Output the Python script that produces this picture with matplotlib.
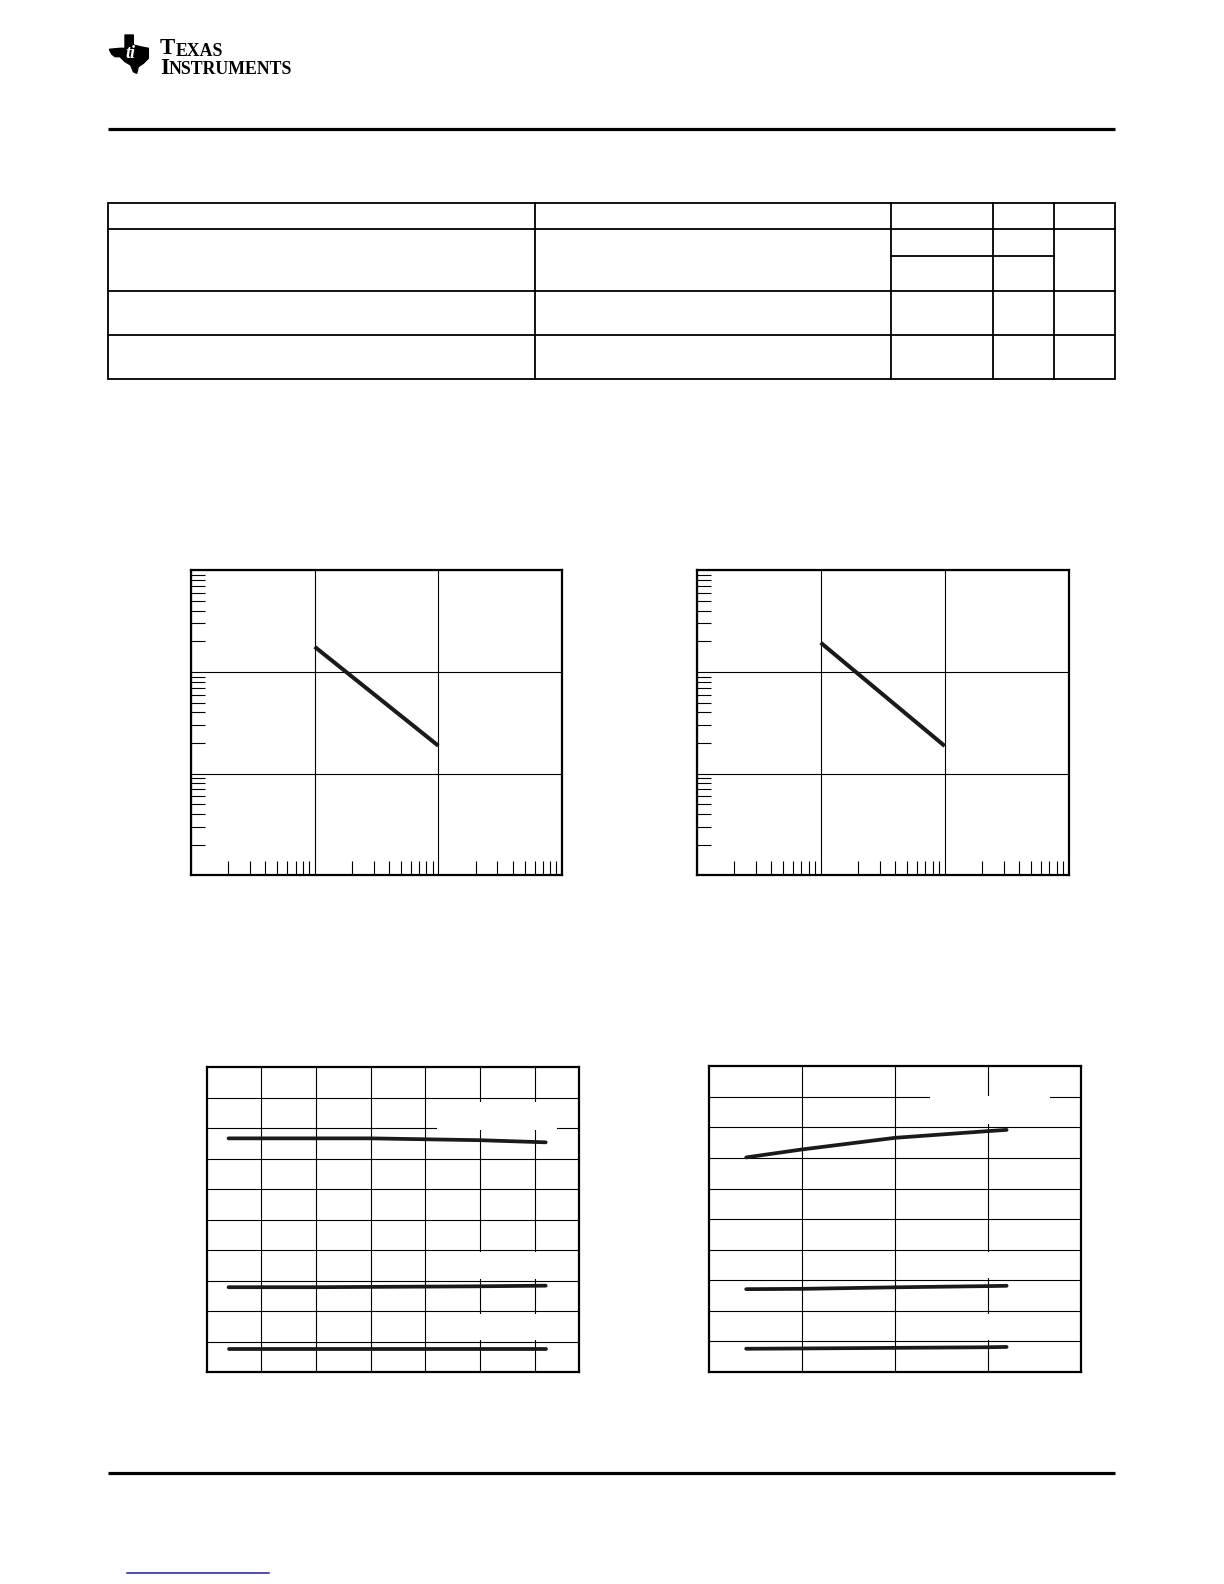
import numpy as np
import matplotlib
matplotlib.use("Agg")
import matplotlib.pyplot as plt
from matplotlib.patches import Polygon, Rectangle
from matplotlib.ticker import LogLocator, NullFormatter, FixedLocator

W, H = 1224, 1584

# top charts: log-log, one straight segment each
freq_hz = [100, 1000]
noise_left = [177, 18.8]
noise_right = [194, 18.7]

# bottom-left chart: three curves vs temperature
temp_c = [-40, 0, 25, 50, 75, 105]
temp_upper = [7.67, 7.67, 7.67, 7.64, 7.61, 7.54]
temp_middle = [2.79, 2.79, 2.80, 2.81, 2.82, 2.84]
temp_lower = [0.75, 0.75, 0.75, 0.75, 0.75, 0.75]

# bottom-right chart: three curves vs supply
supply_v = [2.4, 3, 4, 5, 5.2]
supply_upper = [7.02, 7.28, 7.66, 7.88, 7.92]
supply_middle = [2.71, 2.72, 2.77, 2.81, 2.82]
supply_lower = [0.76, 0.77, 0.79, 0.81, 0.82]


def px_box(x0, y0, x1, y1):
    return [x0 / W, 1 - y1 / H, (x1 - x0) / W, (y1 - y0) / H]


def style_frame(ax):
    for spine in ax.spines.values():
        spine.set_linewidth(1.6)
        spine.set_color("black")
    ax.grid(True, which="major", color="black", linewidth=0.8)
    ax.tick_params(which="both", labelbottom=False, labelleft=False,
                   top=False, right=False)


def log_chart(fig, box, y_vals):
    ax = fig.add_axes(px_box(*box))
    ax.set_xscale("log")
    ax.set_yscale("log")
    ax.set_xlim(10, 1e4)
    ax.set_ylim(1, 1e3)
    for axis in (ax.xaxis, ax.yaxis):
        axis.set_major_locator(LogLocator(base=10, numticks=10))
        axis.set_minor_locator(LogLocator(base=10, subs=np.arange(2, 10), numticks=10))
        axis.set_minor_formatter(NullFormatter())
    style_frame(ax)
    ax.tick_params(which="major", length=0)
    ax.tick_params(which="minor", direction="in", length=10, width=0.8, color="black")
    ax.plot(freq_hz, y_vals, color="#1a1a1a", linewidth=2.9, solid_capstyle="butt")
    return ax


def linear_chart(fig, box, xlim, xticks, x, curves, boxes):
    ax = fig.add_axes(px_box(*box))
    ax.set_xlim(*xlim)
    ax.set_ylim(0, 10)
    ax.xaxis.set_major_locator(FixedLocator(xticks))
    ax.yaxis.set_major_locator(FixedLocator(range(1, 10)))
    style_frame(ax)
    ax.tick_params(which="both", length=0)
    # blanks left where labels sat on the original
    for (bx0, bx1, by0, by1) in boxes:
        ax.add_patch(Rectangle((bx0, by0), bx1 - bx0, by1 - by0,
                               facecolor="white", edgecolor="none", zorder=1.8))
    for y in curves:
        ax.plot(x, y, color="#1a1a1a", linewidth=2.7, solid_capstyle="round", zorder=3)
    return ax


def draw_page(fig):
    ax = fig.add_axes([0, 0, 1, 1])
    ax.set_xlim(0, W)
    ax.set_ylim(H, 0)
    ax.axis("off")

    # logo
    texas = [(75, 15), (100, 15), (100, 45), (120, 50), (145, 55), (145, 85),
             (130, 100), (115, 110), (110, 130), (100, 125), (92, 105), (75, 95),
             (60, 80), (45, 80), (35, 72), (28, 58), (60, 55), (75, 55)]
    ax.add_patch(Polygon([(100 + zx / 3, 30 + zy / 3) for zx, zy in texas],
                         closed=True, facecolor="black", edgecolor="black"))
    ax.text(130, 58, "ti", color="white", fontsize=13, fontweight="bold",
            fontstyle="italic", family="Liberation Serif", ha="center", va="baseline")
    for word, base in (("TEXAS", 59.5), ("INSTRUMENTS", 78.5)):
        t = ax.text(160, base, word[0], fontsize=16.5, fontweight="bold",
                    family="Liberation Serif", va="bottom", ha="left")
        ax.annotate(word[1:], xy=(1, 0), xycoords=t, fontsize=12.8, fontweight="bold",
                    family="Liberation Serif", va="bottom", ha="left")

    # rules
    ax.plot([108, 1115], [128.5, 128.5], color="black", linewidth=2.3, solid_capstyle="butt")
    ax.plot([108, 1115], [1472.5, 1472.5], color="black", linewidth=2.3, solid_capstyle="butt")
    ax.plot([127, 269], [1573, 1573], color="#1c1ca0", linewidth=1.1)

    # table grid
    lw = 1.3
    left, right, top, bottom = 108, 1115, 202.5, 379
    ax.add_patch(Rectangle((left, top), right - left, bottom - top, fill=False,
                           edgecolor="black", linewidth=lw))
    for y in (228.5, 291, 335.3):
        ax.plot([left, right], [y, y], color="black", linewidth=lw)
    ax.plot([891.3, 1054.3], [255.5, 255.5], color="black", linewidth=lw)
    for x in (535.4, 891.3, 993.3, 1054.3):
        ax.plot([x, x], [top, bottom], color="black", linewidth=lw)
    return ax


def main():
    fig = plt.figure(figsize=(W / 100, H / 100), dpi=100)
    fig.patch.set_facecolor("white")
    draw_page(fig)

    log_chart(fig, (191, 570.3, 562, 875.3), noise_left)
    log_chart(fig, (696.7, 570.3, 1068.7, 875.3), noise_right)

    linear_chart(fig, (206.7, 1067.3, 578.5, 1372.3), (-50, 120),
                 [-25, 0, 25, 50, 75, 100], temp_c,
                 [temp_upper, temp_middle, temp_lower],
                 [(55.2, 110, 7.95, 8.86), (55.5, 117, 3.06, 3.94), (55.5, 117, 1.06, 1.92)])
    linear_chart(fig, (709, 1066.3, 1081, 1372), (2, 6), [3, 4, 5], supply_v,
                 [supply_upper, supply_middle, supply_lower],
                 [(4.38, 5.67, 8.12, 9.04), (4.4, 5.67, 3.06, 3.93), (4.4, 5.67, 1.06, 1.9)])

    fig.savefig("out.png", dpi=100, facecolor="white")


if __name__ == "__main__":
    main()
